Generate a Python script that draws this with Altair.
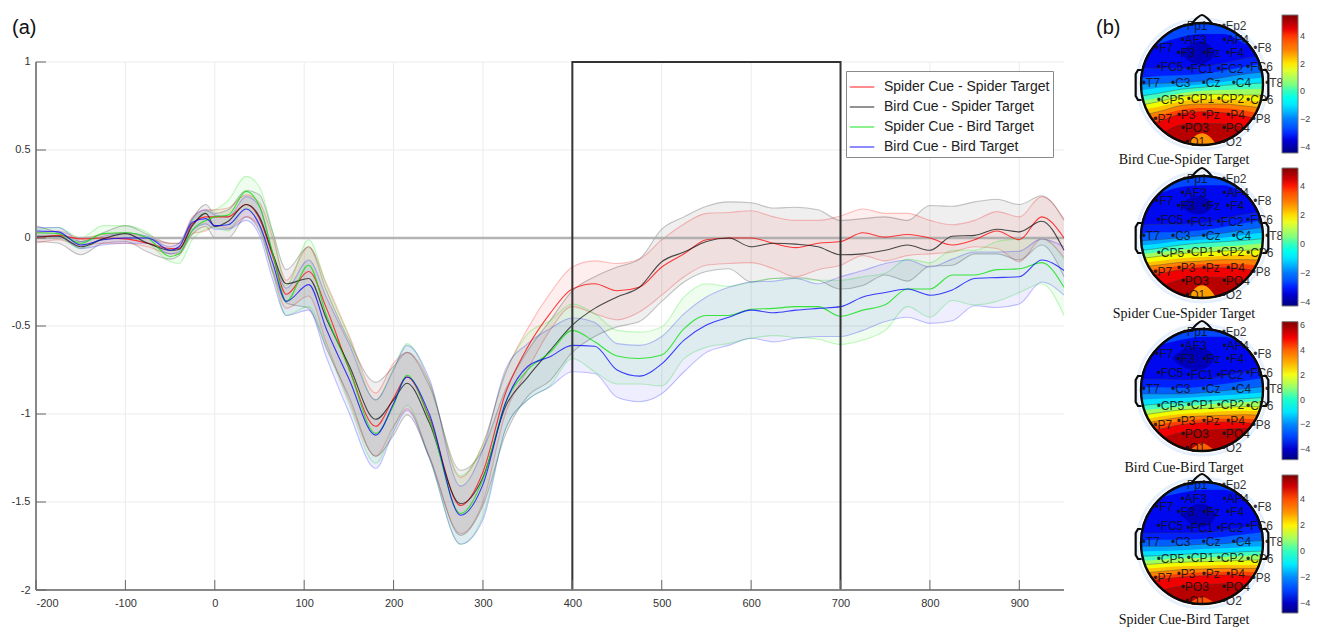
import altair as alt
import pandas as pd

# ---------- panel (a) data ----------
T = [-200,-175,-150,-125,-100,-75,-50,-40,-25,-10,0,15,35,50,65,80,105,125,150,180,200,215,240,275,300,325,350,375,
     400,425,450,475,500,525,550,575,600,625,650,675,700,725,750,775,800,825,850,875,900,925,950]

RED_MEAN = [.00,.015,-.005,0,-.005,-.03,-.06,-.06,.08,.12,.12,.12,.19,.11,-.105,-.32,-.19,-.40,-.74,-1.07,-.91,-.79,-1.02,-1.52,-1.33,-.885,-.62,-.43,
            -.29,-.26,-.30,-.28,-.165,-.09,-.01,0,0,-.03,-.055,-.03,-.02,.03,.005,.02,0,-.04,-.01,.04,-.01,.12,0]
RED_UP = [.03,.04,0,.02,.03,0,-.03,-.03,.12,.16,.16,.17,.245,.20,.0,-.24,-.05,-.26,-.55,-.88,-.71,-.65,-.82,-1.36,-1.17,-.77,-.515,-.315,
          -.165,-.13,-.145,-.12,-.01,.08,.14,.145,.155,.12,.10,.10,.125,.165,.14,.14,.10,.075,.10,.15,.12,.235,.11]
RED_LOW = [-.03,-.01,-.04,-.03,-.03,-.05,-.09,-.09,.025,.04,.07,.055,.12,.065,-.2,-.40,-.33,-.60,-.92,-1.24,-1.07,-.97,-1.24,-1.68,-1.50,-1.0,-.75,-.525,
           -.39,-.43,-.465,-.42,-.325,-.22,-.155,-.145,-.14,-.175,-.22,-.18,-.155,-.10,-.13,-.10,-.09,-.08,-.05,-.06,-.135,-.005,-.11]

BLACK_MEAN = [.01,.01,-.05,-.005,.025,-.03,-.07,-.065,.07,.14,.065,.095,.19,.12,-.09,-.26,-.23,-.46,-.72,-1.03,-.92,-.825,-1.05,-1.51,-1.36,-.96,-.79,-.64,
              -.495,-.40,-.335,-.28,-.135,-.08,-.02,0,-.05,-.03,-.035,-.05,-.095,-.09,-.07,-.04,-.07,.01,.015,.05,.035,.095,-.07]
BLACK_UP = [.07,.03,-.02,.03,.07,.02,-.03,-.03,.11,.19,.14,.16,.27,.245,.03,-.18,-.05,-.30,-.58,-.82,-.73,-.65,-.84,-1.32,-1.20,-.865,-.64,-.47,
            -.30,-.22,-.165,-.12,.05,.12,.18,.205,.20,.17,.175,.16,.10,.11,.12,.10,.185,.18,.205,.22,.19,.24,.10]
BLACK_LOW = [-.02,-.03,-.095,-.03,-.02,-.08,-.12,-.10,.02,.065,0,0,.12,.04,-.19,-.37,-.40,-.63,-.90,-1.24,-1.12,-1.005,-1.245,-1.69,-1.52,-1.12,-.90,-.81,
             -.65,-.56,-.505,-.475,-.36,-.25,-.19,-.175,-.25,-.23,-.225,-.24,-.29,-.27,-.21,-.245,-.16,-.155,-.09,-.09,-.125,-.04,-.22]

GREEN_MEAN = [.03,.025,-.03,.025,.03,0,-.105,-.09,.045,.10,.12,.13,.265,.18,-.09,-.36,-.155,-.44,-.74,-1.11,-.95,-.78,-1.03,-1.565,-1.37,-.94,-.75,-.65,
              -.525,-.59,-.67,-.685,-.665,-.515,-.44,-.44,-.405,-.40,-.39,-.39,-.445,-.41,-.38,-.29,-.29,-.21,-.21,-.18,-.175,-.14,-.28]
GREEN_UP = [.05,.06,0,.07,.07,.03,-.07,-.05,.10,.15,.16,.215,.35,.29,.03,-.27,-.01,-.27,-.56,-.92,-.74,-.60,-.82,-1.35,-1.17,-.77,-.545,-.47,
            -.375,-.43,-.525,-.535,-.505,-.335,-.26,-.275,-.25,-.23,-.23,-.24,-.24,-.22,-.20,-.12,-.14,-.07,-.07,-.02,-.005,0,-.12]
GREEN_LOW = [0,0,-.06,-.01,0,-.03,-.135,-.145,-.01,.05,.06,.04,.17,.065,-.2,-.44,-.39,-.62,-.94,-1.28,-1.08,-.95,-1.25,-1.74,-1.58,-1.09,-.92,-.84,
             -.685,-.76,-.83,-.83,-.84,-.685,-.62,-.60,-.57,-.555,-.565,-.575,-.605,-.58,-.525,-.39,-.45,-.355,-.38,-.36,-.31,-.26,-.44]

BLUE_MEAN = [.04,.035,-.04,-.01,0,0,-.07,-.05,.09,.11,.07,.075,.165,.075,-.145,-.36,-.265,-.52,-.80,-1.12,-.94,-.79,-1.0,-1.575,-1.40,-.94,-.73,-.675,
             -.61,-.615,-.75,-.785,-.715,-.58,-.495,-.45,-.41,-.425,-.41,-.40,-.39,-.335,-.31,-.29,-.325,-.295,-.23,-.225,-.22,-.125,-.185]
BLUE_UP = [.06,.06,-.02,.01,.03,.01,-.05,-.03,.11,.16,.13,.12,.235,.18,-.09,-.285,-.125,-.34,-.60,-.92,-.75,-.61,-.80,-1.41,-1.20,-.75,-.60,-.515,
           -.455,-.48,-.60,-.61,-.56,-.43,-.335,-.28,-.25,-.245,-.23,-.26,-.22,-.185,-.145,-.125,-.165,-.12,-.08,-.08,-.075,-.005,-.05]
BLUE_LOW = [.01,.01,-.06,-.04,-.03,-.03,-.09,-.08,.04,.08,.05,.05,.10,.015,-.24,-.44,-.41,-.68,-.99,-1.31,-1.10,-.98,-1.25,-1.74,-1.60,-1.09,-.92,-.845,
            -.76,-.77,-.905,-.93,-.885,-.76,-.65,-.61,-.57,-.59,-.57,-.56,-.56,-.525,-.475,-.45,-.485,-.47,-.385,-.395,-.375,-.25,-.325]

NAMES = ["Spider Cue - Spider Target", "Bird Cue - Spider Target", "Spider Cue - Bird Target", "Bird Cue - Bird Target"]
COLORS = ["#ff0000", "#111111", "#00e000", "#0000ff"]
SERIES = [(RED_MEAN, RED_UP, RED_LOW), (BLACK_MEAN, BLACK_UP, BLACK_LOW), (GREEN_MEAN, GREEN_UP, GREEN_LOW), (BLUE_MEAN, BLUE_UP, BLUE_LOW)]

X_TICKS = [-200,-100,0,100,200,300,400,500,600,700,800,900]
Y_TICKS = [-2,-1.5,-1,-.5,0,.5,1]

# ---------- panel (b) data: contour boundaries across the head ----------
BX = [-195,-130,-65,0,65,130,195]
BAND_COLORS = ["#0020ff","#0060ff","#00a0ff","#00e0ff","#40ffc0","#a0ff60","#f0ff00","#ffc000","#ff8000","#ff4000","#f00000","#b80000"]
P1 = [[-47,-47,-47,-52,-62,-77,-87],[-17,-24,-26,-30,-40,-52,-62],[3,-2,-4,-9,-20,-30,-37],[20,11,6,1,-7,-14,-20],
      [38,28,16,10,4,0,-4],[53,41,28,20,18,16,14],[66,53,38,31,31,33,33],[80,68,53,46,46,50,53],
      [96,83,65,60,60,66,73],[110,96,78,72,73,80,93],[128,113,90,83,86,96,113],[178,153,123,118,120,133,168]]
P2 = [[-35,-38,-38,-42,-55,-68,-78],[-10,-14,-15,-20,-30,-42,-52],[12,8,2,-4,-12,-22,-30],[26,20,12,8,2,-6,-14],
      [42,34,24,18,14,10,4],[54,46,38,32,28,24,18],[66,58,50,46,42,40,38],[80,72,64,60,56,54,54],
      [92,84,76,72,68,68,70],[104,96,86,82,80,82,88],[120,110,98,92,92,96,108],[170,150,128,120,122,130,165]]
P3 = [[-32,-32,-30,-32,-42,-55,-65],[-8,-8,-6,-10,-18,-28,-38],[12,12,12,8,2,-4,-12],[30,26,24,20,16,12,6],
      [48,42,38,34,30,26,22],[62,56,50,44,40,36,34],[78,68,60,56,52,50,50],[92,80,72,68,64,62,64],
      [104,92,82,78,76,74,78],[118,104,94,88,86,86,92],[134,118,104,98,96,98,108],[185,150,128,122,118,115,145]]
P4 = [[-28,-30,-30,-30,-38,-48,-56],[-8,-10,-10,-12,-18,-26,-34],[10,10,8,4,2,-4,-8],[26,24,22,18,16,12,10],
      [40,38,34,32,30,26,24],[54,50,46,44,42,38,36],[66,62,58,56,54,52,50],[78,74,70,68,66,66,64],
      [92,86,80,78,76,76,76],[104,98,92,88,86,86,88],[118,110,102,98,96,98,102],[170,145,130,126,122,125,150]]
TOPS = [[-90,-120,-140,-150,-150,-120,-90],[-110,-130,-150,-155,-155,-130,-105],[-120,-135,-150,-160,-160,-135,-110],[-115,-135,-150,-160,-160,-135,-110]]
DARK_X = [[-66,-40,-5,25,40],[-66,-40,-10,15,36],[-91,-55,-20,15,39],[-61,-35,-5,25,44]]
DARK_TOP = [[-95,-115,-128,-115,-95],[-95,-115,-123,-115,-95],[-95,-122,-130,-122,-95],[-83,-108,-118,-108,-83]]
DARK_BOT = [[-95,-70,-60,-72,-95],[-95,-75,-68,-75,-95],[-95,-68,-60,-68,-95],[-83,-58,-48,-58,-83]]
BUMP_X = [-50,-25,0,25,50]
BUMP = [[195,160,148,160,195],[195,158,145,158,195],[195,172,160,172,195],[195,172,162,172,195]]
BUMP_COLOR = ["#ff9000","#ffa000","#ff6000","#ff5000"]
CAPTIONS = ["Bird Cue-Spider Target","Spider Cue-Spider Target","Bird Cue-Bird Target","Spider Cue-Bird Target"]
CAPTION_Y = [229,232,235,231]
BAR_DOMAIN = [(-4.43,5.5),(-4.28,5.25),(-4.87,6.3),(-4.75,5.87)]
BAR_TICKS = [[-4,-2,0,2,4],[-4,-2,0,2,4],[-4,-2,0,2,4,6],[-4,-2,0,2,4]]
BAR_TOP = [3,3,3.7,4]
JET = ["#00007f","#0000ff","#007fff","#00ffff","#7fff7f","#ffff00","#ff7f00","#ff0000","#7f0000"]

EL_NAMES = ["Fp1","Fp2","AF3","AF4","F7","F3","Fz","F4","F8","FC5","FC1","FC2","FC6","T7","C3","Cz","C4","T8",
            "CP5","CP1","CP2","CP6","P7","P3","Pz","P4","P8","PO3","PO4","O1","O2"]
EL_X = [-58,59,-64,62,-141,-76,2,72,154,-136,-46,44,132,-181,-93,-1,89,189,-136,-46,44,132,-146,-76,-1,72,149,-64,59,-51,59]
EL_Y = [-174,-174,-132,-132,-107,-94,-92,-94,-107,-52,-45,-45,-52,-2,-2,-2,-2,-2,48,45,45,48,106,93,93,93,106,133,133,175,175]
NOSE_X = [-33,-15,0,15,33]
NOSE_Y = [-178,-198,-207,-198,-178]
EAR_X = [-181,-192,-199,-199,-192,-181]
EAR_Y = [-42,-42,-30,36,48,48]

# ---------- panel (a) ----------
xs = alt.Scale(domain=[-200,950], nice=False, zero=False)
ys = alt.Scale(domain=[-2,1.284], nice=False, zero=False)
AX = alt.Axis(values=X_TICKS, grid=False, ticks=False, domain=False, title=None,
              labelExpr="''+datum.value", labelFontSize=11, labelFont="Liberation Sans", labelColor="#333333", labelPadding=7)
AY = alt.Axis(values=Y_TICKS, grid=False, ticks=False, domain=False, title=None,
              labelExpr="''+datum.value", labelFontSize=11, labelFont="Liberation Sans", labelColor="#333333", labelPadding=6)

def mx(f):
    return alt.X(f + ":Q", scale=xs, axis=AX, title=None)

def my(f):
    return alt.Y(f + ":Q", scale=ys, axis=AY, title=None)

vgrid = pd.DataFrame({"t": X_TICKS, "a": [-2]*len(X_TICKS), "b": [1]*len(X_TICKS), "c": [-1.943]*len(X_TICKS)})
hgrid = pd.DataFrame({"v": Y_TICKS, "a": [-200]*len(Y_TICKS), "b": [950]*len(Y_TICKS), "c": [-188.8]*len(Y_TICKS)})
layers = [
    alt.Chart(vgrid).mark_rule(color="#ececec", strokeWidth=1).encode(x=mx("t"), y=my("a"), y2="b:Q"),
    alt.Chart(hgrid).mark_rule(color="#ececec", strokeWidth=1).encode(y=my("v"), x=mx("a"), x2="b:Q"),
]
for name, col, (m, u, l) in zip(NAMES, COLORS, SERIES):
    d = pd.DataFrame({"t": T, "m": m, "u": u, "l": l, "s": name})
    layers.append(alt.Chart(d).mark_area(color=col, opacity=0.065, interpolate="monotone").encode(x=mx("t"), y=my("u"), y2="l:Q"))
    for k in ("u", "l"):
        layers.append(alt.Chart(d).mark_line(color=col, opacity=0.24, strokeWidth=1.1, interpolate="monotone").encode(x=mx("t"), y=my(k)))
zero = pd.DataFrame({"v": [0], "a": [-200], "b": [950]})
layers.append(alt.Chart(zero).mark_rule(color="#a8a8a8", strokeWidth=2.4, opacity=0.85).encode(y=my("v"), x=mx("a"), x2="b:Q"))
long = pd.concat([pd.DataFrame({"t": T, "v": s[0], "s": n}) for n, s in zip(NAMES, SERIES)])
layers.append(alt.Chart(long).mark_line(strokeWidth=1.1, opacity=0.75, interpolate="monotone").encode(
    x=mx("t"), y=my("v"),
    color=alt.Color("s:N", sort=NAMES, scale=alt.Scale(domain=NAMES, range=COLORS), legend=alt.Legend(
        title=None, orient="none", legendX=810, legendY=59, fillColor="white", strokeColor="#8a8a8a", padding=3,
        symbolType="stroke", symbolSize=600, symbolStrokeWidth=1.2, labelFont="Liberation Sans", labelFontSize=14,
        labelColor="#222222", rowPadding=-1.7, labelLimit=220, labelOffset=9))))
box = pd.DataFrame({"a": [400], "b": [700], "c": [1], "d": [-2]})
layers.append(alt.Chart(box).mark_rect(fill=None, stroke="#333333", strokeWidth=2).encode(x=mx("a"), x2="b:Q", y=my("c"), y2="d:Q"))
# axis lines and inward ticks
layers.append(alt.Chart(pd.DataFrame({"a": [-200], "c": [-2], "d": [1]})).mark_rule(color="#888888", strokeWidth=2).encode(x=mx("a"), y=my("c"), y2="d:Q"))
layers.append(alt.Chart(pd.DataFrame({"a": [-200], "b": [950], "c": [-2]})).mark_rule(color="#888888", strokeWidth=2).encode(x=mx("a"), x2="b:Q", y=my("c")))
layers.append(alt.Chart(vgrid).mark_rule(color="#666666", strokeWidth=1).encode(x=mx("t"), y=my("a"), y2="c:Q"))
layers.append(alt.Chart(hgrid).mark_rule(color="#666666", strokeWidth=1).encode(y=my("v"), x=mx("a"), x2="c:Q"))
layers.append(alt.Chart(pd.DataFrame({"s": ["(a)"]})).mark_text(fontSize=20, font="Liberation Sans", align="left", color="#111111").encode(
    x=alt.value(-24), y=alt.value(16), text="s:N"))
main = alt.layer(*layers).properties(width=1028, height=578)

# ---------- panel (b) ----------
hx = alt.Scale(domain=[-300,300], nice=False, zero=False)
hy = alt.Scale(domain=[243,-216], nice=False, zero=False)

def px(f):
    return alt.X(f + ":Q", scale=hx, axis=None)

def py(f):
    return alt.Y(f + ":Q", scale=hy, axis=None)

def caption(k, y):
    cap = pd.DataFrame({"x": [-54], "y": [y], "s": [CAPTIONS[k]]})
    return alt.Chart(cap).mark_text(font="Liberation Serif", fontSize=14, color="#111111").encode(x=px("x"), y=py("y"), text="s:N")

def panel(i, bands):
    lo, hi = BAR_DOMAIN[i]
    stops = [lo + (hi - lo) * k / 8 for k in range(9)]
    ls = []
    ls.append(alt.Chart(pd.DataFrame({"x": [0], "y": [0], "v": [lo]})).mark_point(filled=True, size=1, opacity=1).encode(
        x=px("x"), y=py("y"),
        color=alt.Color("v:Q", scale=alt.Scale(domain=stops, range=JET), legend=alt.Legend(
            title=None, orient="none", legendX=180, legendY=BAR_TOP[i], direction="vertical", type="gradient",
            gradientLength=138, gradientThickness=16, gradientStrokeColor="#777777", gradientStrokeWidth=1,
            values=BAR_TICKS[i], labelFont="Liberation Sans", labelFontSize=9, labelColor="#444444", padding=0,
            labelOffset=2, labelOverlap=False))))
    ls.append(alt.Chart(pd.DataFrame({"x": BX, "a": [-195]*7, "b": [195]*7})).mark_area(color="#0008f0").encode(
        x=px("x"), y=py("a"), y2="b:Q"))
    ls.append(alt.Chart(pd.DataFrame({"x": BX, "a": [-195]*7, "b": TOPS[i]})).mark_area(color="#0048ff", interpolate="monotone").encode(
        x=px("x"), y=py("a"), y2="b:Q"))
    for c, row in zip(BAND_COLORS, bands):
        ls.append(alt.Chart(pd.DataFrame({"x": BX, "a": row, "b": [195]*7})).mark_area(color=c, interpolate="monotone").encode(
            x=px("x"), y=py("a"), y2="b:Q"))
    dk = pd.DataFrame({"x": DARK_X[i], "a": DARK_TOP[i], "b": DARK_BOT[i]})
    ls.append(alt.Chart(dk).mark_area(color="#0000bc", interpolate="monotone").encode(x=px("x"), y=py("a"), y2="b:Q"))
    ls.append(alt.Chart(pd.DataFrame({"x": BUMP_X, "a": BUMP[i], "b": [195]*5})).mark_area(color=BUMP_COLOR[i], interpolate="monotone").encode(
        x=px("x"), y=py("a"), y2="b:Q"))
    for row in bands[::2] + [bands[-1]]:
        ls.append(alt.Chart(pd.DataFrame({"x": BX, "a": row})).mark_line(color="#3a3a3a", strokeWidth=0.7, opacity=0.55, interpolate="monotone").encode(
            x=px("x"), y=py("a")))
    c0 = pd.DataFrame({"x": [0], "y": [0]})
    ls.append(alt.Chart(c0).mark_point(clip=True, shape="circle", filled=False, stroke="white", strokeWidth=34, size=158**2, opacity=1).encode(x=px("x"), y=py("y")))
    ls.append(alt.Chart(c0).mark_point(shape="circle", filled=False, stroke="#e6f0fd", strokeWidth=3, size=130**2, opacity=1).encode(x=px("x"), y=py("y")))
    ls.append(alt.Chart(c0).mark_point(shape="circle", filled=False, stroke="#0a0a0a", strokeWidth=2.4, size=122**2, opacity=1).encode(x=px("x"), y=py("y")))
    ls.append(alt.Chart(pd.DataFrame({"x": NOSE_X, "y": NOSE_Y})).mark_line(color="#0a0a0a", strokeWidth=2.2, interpolate="monotone").encode(x=px("x"), y=py("y")))
    for ex in (EAR_X, [-v for v in EAR_X]):
        ls.append(alt.Chart(pd.DataFrame({"x": ex, "y": EAR_Y, "o": list(range(6))})).mark_line(color="#0a0a0a", strokeWidth=2.2).encode(
            x=px("x"), y=py("y"), order="o:O"))
    els = pd.DataFrame({"x": EL_X, "y": EL_Y, "s": ["\u2022" + n for n in EL_NAMES]})
    ls.append(alt.Chart(els).mark_text(align="left", baseline="middle", font="Liberation Sans", fontSize=12, color="#111111", opacity=0.85).encode(
        x=px("x"), y=py("y"), text="s:N"))
    # a caption lies just above the next panel's white mask, so that panel draws it
    if i > 0:
        ls.append(caption(i - 1, CAPTION_Y[i - 1] - 459))
    if i == 3:
        ls.append(caption(3, CAPTION_Y[3]))
    if i == 0:
        ls.append(alt.Chart(pd.DataFrame({"s": ["(b)"]})).mark_text(fontSize=20, font="Liberation Sans", align="left", color="#111111").encode(
            x=alt.value(-6), y=alt.value(16), text="s:N"))
    return alt.layer(*ls).properties(width=200, height=153)

right = alt.vconcat(*[panel(i, b) for i, b in enumerate([P1, P2, P3, P4])], spacing=0, bounds="flush").resolve_scale(color="independent")
chart = (alt.hconcat(main, right, spacing=38, bounds="flush").resolve_scale(color="independent")
         .properties(padding={"left": 3, "top": 2, "right": 0, "bottom": 0}).configure_view(stroke=None))
chart.save("out.html", embed_options={"renderer": "svg", "actions": False})
